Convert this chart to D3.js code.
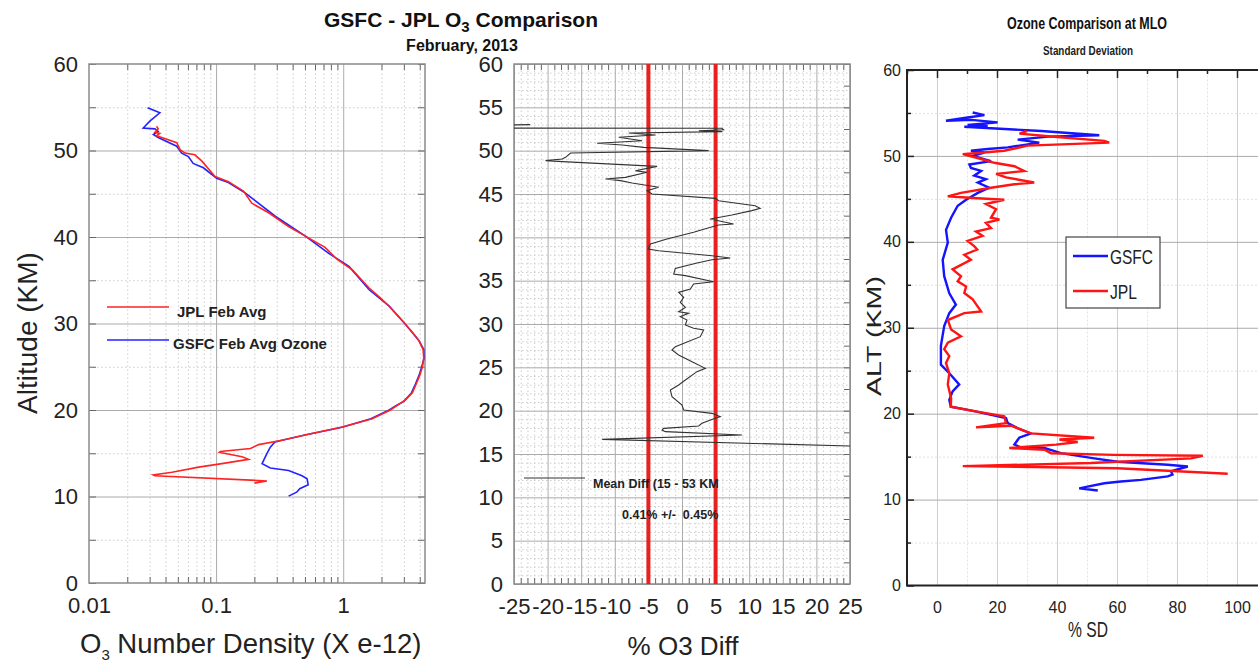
<!DOCTYPE html>
<html>
<head>
<meta charset="UTF-8">
<title>GSFC - JPL O3 Comparison</title>
<style>
  body { margin: 0; background: #fff; }
  svg { display: block; font-family: "Liberation Sans", Arial, sans-serif; }
  .gridMajor line { stroke: #ababab; stroke-width: 1; }
  .gridMinor line { stroke: #cdcdcd; stroke-width: 1; stroke-dasharray: 1.5 2.5; }
  .gridFaint line { stroke: #e2e2e2; stroke-width: 1; stroke-dasharray: 2 2; }
  .gridLight line { stroke: #cfcfcf; stroke-width: 1; }
  .mark line { stroke: #666; stroke-width: 1; }
  .markDark line { stroke: #222; stroke-width: 1.5; }
  .lbl text { font-size: 22px; fill: #222; }
  .lblNarrow text { font-size: 16px; fill: #222; font-family: "Liberation Sans Narrow", "Arial Narrow", "Liberation Sans", sans-serif; }
  .narrow { font-family: "Liberation Sans Narrow", "Arial Narrow", "Liberation Sans", sans-serif; }
</style>
</head>
<body>
<svg id="chart"></svg>
<script src="https://d3js.org/d3.v7.min.js"></script>
<script>
// ---- data: [altitude km, value] ----
const jplDensity = [
  [52.8,0.034],[52.5,0.035],[52.1,0.033],[51.97,0.036],[51.7,0.034],[50.9,0.049],[50.1,0.052],
  [49.7,0.057],[49.5,0.068],[48.8,0.077],[47.0,0.098],[46.4,0.125],[45.3,0.164],[43.9,0.191],
  [42.8,0.259],[41.2,0.372],[40.1,0.504],[38.8,0.72],[37.4,0.898],[36.2,1.18],[34.1,1.6],
  [33,1.95],[32,2.3],[31,2.65],[30,3.05],[29,3.5],[28,3.95],[27,4.25],[26,4.3],[25,4.2],
  [24,4.0],[23,3.75],[22,3.5],[21.2,3.1],[20.6,2.7],[20,2.35],[19,1.69],[18.06,1.0],
  [17.1,0.5],[16.5,0.33],[16,0.216],[15.55,0.186],[15.2,0.108],[15.1,0.106],[14.6,0.16],
  [14.3,0.18],[13.8,0.111],[13.4,0.073],[12.8,0.045],[12.5,0.032],[12.4,0.033],[11.8,0.251],[11.55,0.2]
];
const gsfcDensity = [
  [54.94,0.0289],[54.36,0.0361],[53.4,0.0301],[52.6,0.0267],[52.5,0.033],[52.2,0.035],
  [51.85,0.0321],[51.5,0.035],[50.5,0.049],[49.7,0.0536],[49.3,0.0605],[48.5,0.066],
  [48.0,0.0794],[46.8,0.101],[46.3,0.125],[45.1,0.169],[42.4,0.292],[40.1,0.504],[38.1,0.77],
  [36.6,1.11],[33.9,1.6],[32,2.3],[30,3.05],[28,3.95],[27,4.3],[26,4.32],[25,4.15],[24,3.95],
  [23,3.7],[22,3.45],[21,3.0],[20.5,2.6],[20,2.3],[19,1.65],[18,0.98],[17.1,0.5],[16.5,0.33],
  [16.3,0.29],[15.7,0.267],[14.96,0.251],[14.2,0.237],[13.8,0.23],[13.3,0.267],[13.0,0.372],
  [12.4,0.474],[12.05,0.52],[11.36,0.53],[10.9,0.455],[10.5,0.43],[10.04,0.372]
];
const pctDiff = [
  [53.0,-22.6],[52.95,-28],[52.6,-28],[52.58,5.94],[52.4,6.19],[52.3,2.5],[52.2,6.0],[52.04,-7.92],
  [51.8,-3.96],[51.54,-9.41],[51.15,-5.94],[50.85,-12.62],[50.65,-8.91],[50.38,-5.69],[50.0,3.96],
  [49.73,-16.58],[49.23,-17.33],[49.04,-17.82],[48.85,-20.3],[48.73,-17.82],[48.19,-3.71],
  [47.69,-6.93],[47.5,-5.2],[46.92,-8.42],[46.73,-11.39],[46.54,-9.16],[46.27,-7.43],[45.77,-3.47],
  [45.38,-5.2],[45.0,-4.46],[44.5,4.95],[44.23,5.45],[43.65,10.89],[43.35,11.63],[43.08,10.4],
  [42.58,7.43],[42.12,4.21],[41.54,7.67],[41.42,5.45],[40.88,2.97],[40.58,1.73],[39.81,-2.23],
  [39.23,-4.7],[38.65,-5.05],[38.46,-3.47],[37.88,4.46],[37.62,7.18],[37.42,4.46],[37.04,2.23],
  [36.42,-0.99],[35.77,-1.24],[35.58,0.5],[34.88,4.7],[34.62,1.73],[34.04,1.24],[33.65,-0.5],
  [33.08,0.25],[32.5,-0.25],[31.92,0.5],[31.42,-0.5],[31.23,0.99],[30.85,-0.25],[30.46,0.74],
  [29.88,0.5],[29.5,1.73],[29.31,3.22],[28.54,2.72],[27.38,-0.99],[27.0,-1.49],[26.42,-0.5],
  [25.65,1.49],[24.88,3.47],[24.5,2.23],[23.54,0.5],[22.96,-0.5],[22.38,-1.73],[21.62,-1.49],
  [20.65,0],[20.08,0.25],[19.69,4.46],[19.31,5.69],[19.12,4.95],[18.54,2.97],[18.23,2.48],
  [17.96,-2.72],[17.77,-2.97],[17.58,-2.48],[17.19,8.91],[16.69,-11.88],[15.92,25.2],[15.8,28]
];
const gsfcSD = [
  [55.05,11.9],[54.75,15.8],[54.5,10.8],[54.1,3.0],[54.2,11.5],[53.9,20.2],[53.6,10.2],[53.5,16.9],
  [53.4,9.1],[52.9,34.7],[52.4,54.1],[52.25,37.1],[51.9,26.9],[51.55,34.1],[51.0,23.6],[50.8,16.9],
  [50.6,11.3],[50.4,15.8],[50.0,11.9],[49.4,18.0],[49.0,10.8],[48.6,11.3],[48.25,14.7],[47.7,12.4],
  [47.3,16.3],[46.9,13.6],[46.3,17.4],[45.7,13.6],[44.9,9.7],[44.2,6.9],[42.8,4.7],[41.4,3.0],
  [39.9,3.6],[37.9,1.9],[36.0,2.4],[34.0,4.1],[32.7,6.3],[31.7,4.1],[30.2,2.4],[27.9,1.3],
  [25.7,1.3],[24.7,4.1],[23.4,7.4],[22.6,5.2],[21.6,4.1],[20.8,4.6],[20.3,12.4],[19.5,23.0],
  [18.9,23.6],[18.3,26.9],[17.7,31.3],[17.2,27.4],[16.4,25.8],[16.0,28.5],[16.0,35.8],[15.4,41.3],
  [14.8,52.4],[14.4,60.2],[14.05,76.9],[13.85,83.6],[13.3,78.0],[12.9,78.5],[12.7,76.9],[12.3,68.0],
  [12.1,61.3],[11.9,55.8],[11.5,50.2],[11.3,47.4],[11.05,53.6]
];
const jplSD = [
  [52.9,30],[52.6,27.5],[52.2,40],[51.75,55.8],[51.55,57.4],[51.2,30.2],[50.6,22.4],[50.2,8.6],
  [49.7,14.1],[49.2,19.1],[48.8,25.8],[48.25,29.1],[47.9,19.7],[47.5,23.0],[46.9,32.4],[46.7,25.8],
  [46.3,18.0],[45.7,8.0],[45.3,3.6],[45.1,12.0],[44.9,22.4],[44.4,16.3],[43.8,19.7],[42.8,18.0],
  [42.6,20.8],[42.2,16.3],[41.6,18.0],[41.2,13.0],[40.7,15.2],[40.1,10.2],[39.5,12.4],[39.1,13.4],
  [38.5,9.1],[37.9,11.3],[36.8,5.2],[36.0,8.0],[35.4,6.9],[34.8,9.7],[34.05,9.1],[33.3,11.9],
  [31.9,14.7],[31.7,9.1],[30.9,3.6],[29.8,4.7],[29.0,8.0],[28.25,3.6],[27.5,2.4],[26.7,4.1],
  [25.9,3.0],[24.7,4.1],[23.4,3.6],[21.8,4.7],[20.8,4.6],[20.3,12.4],[19.7,22.4],[18.9,23.0],
  [18.4,13.0],[18.6,24.7],[17.7,31.3],[17.2,52.4],[17.0,40.8],[16.7,46.9],[16.4,39.7],[16.0,24.1],
  [15.8,35.8],[15.4,38.0],[15.2,59.0],[15.1,88.6],[14.8,84.7],[14.25,51.3],[13.9,8.6],[13.65,60.2],[13.0,96.9]
];
const limitLines = [-5, 5];

// tick values
const altMajor = [0, 10, 20, 30, 40, 50, 60];
const altMinor = [5, 15, 25, 35, 45, 55];
const altEvery5 = [0, 5, 10, 15, 20, 25, 30, 35, 40, 45, 50, 55, 60];
const densityLabels = [0.01, 0.1, 1];
const densityMinor = [0.02,0.03,0.04,0.05,0.06,0.07,0.08,0.09,0.2,0.3,0.4,0.5,0.6,0.7,0.8,0.9,2,3,4];
const diffLabels = [-25,-20,-15,-10,-5,0,5,10,15,20,25];
const sdLabels = [0, 20, 40, 60, 80, 100];
const sdMinor = [-10, 10, 30, 50, 70, 90, 110];

const W = 1258, H = 662;
const svg = d3.select("#chart").attr("width", W).attr("height", H);
svg.append("rect").attr("width", W).attr("height", H).attr("fill", "#fff");
const defs = svg.append("defs");

function clip(id, x0, y0, x1, y1) {
  defs.append("clipPath").attr("id", id).append("rect")
    .attr("x", x0).attr("y", y0).attr("width", x1 - x0).attr("height", y1 - y0);
  return "url(#" + id + ")";
}
function put(g, axis, tx, ty, cls) {
  const a = g.append("g").attr("class", cls).attr("transform", `translate(${tx},${ty})`).call(axis);
  a.select(".domain").remove();
  return a;
}

// ================= left panel: number density =================
const xL = d3.scaleLog().domain([0.01, 4.4]).range([89, 425]);
const yL = d3.scaleLinear().domain([0, 60]).range([583, 64]);
const gL = svg.append("g");
const hL = yL(0) - yL(60), wL = xL.range()[1] - xL.range()[0];

put(gL, d3.axisBottom(xL).tickValues(densityMinor).tickSize(-hL).tickFormat(""), 0, yL(0), "gridMinor");
put(gL, d3.axisLeft(yL).tickValues(altMinor).tickSize(-wL).tickFormat(""), xL(0.01), 0, "gridMinor");
put(gL, d3.axisBottom(xL).tickValues([0.1, 1]).tickSize(-hL).tickFormat(""), 0, yL(0), "gridMajor");
put(gL, d3.axisLeft(yL).tickValues([10, 20, 30, 40, 50]).tickSize(-wL).tickFormat(""), xL(0.01), 0, "gridMajor");

// inward tick marks
put(gL, d3.axisTop(xL).tickValues(densityMinor).tickSize(-6).tickFormat(""), 0, yL(60), "mark");
put(gL, d3.axisBottom(xL).tickValues(densityMinor).tickSize(-6).tickFormat(""), 0, yL(0), "mark");
put(gL, d3.axisLeft(yL).tickValues(altEvery5).tickSize(-7).tickFormat(""), xL(0.01), 0, "mark");
put(gL, d3.axisRight(yL).tickValues(altEvery5).tickSize(-7).tickFormat(""), xL(4.4), 0, "mark");

put(gL, d3.axisLeft(yL).tickValues(altMajor).tickSize(0).tickPadding(11), xL(0.01), 0, "lbl");
put(gL, d3.axisBottom(xL).tickValues(densityLabels).tickSize(0).tickPadding(14).tickFormat(d => String(d)), 0, yL(0), "lbl");

gL.append("rect").attr("x", xL(0.01)).attr("y", yL(60)).attr("width", wL).attr("height", hL)
  .attr("fill", "none").attr("stroke", "#8a8a8a").attr("stroke-width", 1.5);

const lineL = d3.line().x(d => xL(d[1])).y(d => yL(d[0]));
const curvesL = gL.append("g").attr("clip-path", clip("clipL", 89, 64, 425, 583));
curvesL.append("path").attr("d", lineL(gsfcDensity)).attr("fill", "none").attr("stroke", "#2323ff").attr("stroke-width", 1.6);
curvesL.append("path").attr("d", lineL(jplDensity)).attr("fill", "none").attr("stroke", "#ff2323").attr("stroke-width", 1.6);

// legend
gL.append("line").attr("x1", 107).attr("x2", 169).attr("y1", 307).attr("y2", 307).attr("stroke", "#ff2323").attr("stroke-width", 1.6);
gL.append("text").attr("x", 177).attr("y", 317).attr("font-size", 15).attr("font-weight", "bold").attr("fill", "#222").text("JPL Feb Avg");
gL.append("line").attr("x1", 107).attr("x2", 169).attr("y1", 340).attr("y2", 340).attr("stroke", "#2323ff").attr("stroke-width", 1.6);
gL.append("text").attr("x", 173).attr("y", 349).attr("font-size", 15).attr("font-weight", "bold").attr("fill", "#222").text("GSFC Feb Avg Ozone");

gL.append("text").attr("transform", "translate(37,333) rotate(-90)").attr("text-anchor", "middle")
  .attr("font-size", 28).attr("fill", "#222").text("Altitude (KM)");
const xlab = gL.append("text").attr("x", 80).attr("y", 653).attr("font-size", 27.5).attr("fill", "#222");
xlab.append("tspan").text("O");
xlab.append("tspan").attr("dy", 7).attr("font-size", 15).text("3");
xlab.append("tspan").attr("dy", -7).text(" Number Density (X e-12)");

// ================= middle panel: % difference =================
const xM = d3.scaleLinear().domain([-25, 25]).range([514, 850]);
const yM = d3.scaleLinear().domain([0, 60]).range([584, 64]);
const gM = svg.append("g");
const hM = yM(0) - yM(60), wM = xM(25) - xM(-25);
const diffMinor = d3.range(-24, 25).filter(v => v % 5 !== 0);
const altMinor1 = d3.range(1, 60).filter(v => v % 5 !== 0);

put(gM, d3.axisBottom(xM).tickValues(diffMinor).tickSize(-hM).tickFormat(""), 0, yM(0), "gridMinor");
put(gM, d3.axisLeft(yM).tickValues(altMinor1).tickSize(-wM).tickFormat(""), xM(-25), 0, "gridMinor");
put(gM, d3.axisBottom(xM).tickValues(diffLabels).tickSize(-hM).tickFormat(""), 0, yM(0), "gridMajor");
put(gM, d3.axisLeft(yM).tickValues(altEvery5).tickSize(-wM).tickFormat(""), xM(-25), 0, "gridMajor");

put(gM, d3.axisTop(xM).tickValues(diffMinor).tickSize(-6).tickFormat(""), 0, yM(60), "mark");
put(gM, d3.axisBottom(xM).tickValues(diffMinor).tickSize(-6).tickFormat(""), 0, yM(0), "mark");
put(gM, d3.axisRight(yM).tickValues(d3.range(0, 61, 2.5)).tickSize(-6).tickFormat(""), xM(25), 0, "mark");

put(gM, d3.axisLeft(yM).tickValues(altEvery5).tickSize(0).tickPadding(11), xM(-25), 0, "lbl");
put(gM, d3.axisBottom(xM).tickValues(diffLabels).tickSize(0).tickPadding(14).tickFormat(d => String(d)), 0, yM(0), "lbl");

gM.append("rect").attr("x", xM(-25)).attr("y", yM(60)).attr("width", wM).attr("height", hM)
  .attr("fill", "none").attr("stroke", "#8a8a8a").attr("stroke-width", 1.5);

gM.selectAll(".limit").data(limitLines).enter().append("line").attr("class", "limit")
  .attr("x1", d => xM(d)).attr("x2", d => xM(d)).attr("y1", yM(60)).attr("y2", yM(0))
  .attr("stroke", "#e8201f").attr("stroke-width", 4);

const lineM = d3.line().x(d => xM(d[1])).y(d => yM(d[0]));
gM.append("g").attr("clip-path", clip("clipM", 514, 64, 850, 584))
  .append("path").attr("d", lineM(pctDiff)).attr("fill", "none").attr("stroke", "#333").attr("stroke-width", 1.1);

gM.append("line").attr("x1", 524).attr("x2", 585).attr("y1", 478).attr("y2", 478).attr("stroke", "#333").attr("stroke-width", 1.1);
gM.append("text").attr("x", 593).attr("y", 488).attr("font-size", 12.5).attr("font-weight", "bold").attr("fill", "#222").text("Mean Diff (15 - 53 KM");
gM.append("text").attr("x", 622).attr("y", 519).attr("font-size", 12.5).attr("font-weight", "bold").attr("fill", "#222")
  .style("white-space", "pre").text("0.41% +/-  0.45%");
gM.append("text").attr("x", 683).attr("y", 655).attr("text-anchor", "middle").attr("font-size", 26).attr("fill", "#222").text("% O3 Diff");

// ================= main title =================
const title = svg.append("text").attr("x", 461).attr("y", 27).attr("text-anchor", "middle")
  .attr("font-size", 21).attr("font-weight", "bold").attr("fill", "#111");
title.append("tspan").text("GSFC - JPL O");
title.append("tspan").attr("dy", 5).attr("font-size", 15).text("3");
title.append("tspan").attr("dy", -5).text(" Comparison");
svg.append("text").attr("x", 462).attr("y", 51).attr("text-anchor", "middle")
  .attr("font-size", 16).attr("font-weight", "bold").attr("fill", "#111").text("February, 2013");

// ================= right panel: standard deviation =================
const xR = d3.scaleLinear().domain([-10, 110]).range([907, 1267]);
const yR = d3.scaleLinear().domain([0, 60]).range([585.5, 70]);
const gR = svg.append("g");
const hR = yR(0) - yR(60), wR = xR(110) - xR(-10);

put(gR, d3.axisBottom(xR).tickValues(sdMinor).tickSize(-hR).tickFormat(""), 0, yR(0), "gridFaint");
put(gR, d3.axisLeft(yR).tickValues(altMinor).tickSize(-wR).tickFormat(""), xR(-10), 0, "gridFaint");
put(gR, d3.axisBottom(xR).tickValues(sdLabels).tickSize(-hR).tickFormat(""), 0, yR(0), "gridLight");
put(gR, d3.axisLeft(yR).tickValues([10, 20, 30, 40, 50]).tickSize(-wR).tickFormat(""), xR(-10), 0, "gridMajor");

put(gR, d3.axisTop(xR).tickValues(sdLabels).tickSize(-8).tickFormat(""), 0, yR(60), "markDark");
put(gR, d3.axisTop(xR).tickValues(sdMinor).tickSize(-4).tickFormat(""), 0, yR(60), "markDark");
put(gR, d3.axisLeft(yR).tickValues(altMajor).tickSize(-7).tickFormat(""), xR(-10), 0, "markDark");
put(gR, d3.axisLeft(yR).tickValues(altMinor).tickSize(-4).tickFormat(""), xR(-10), 0, "markDark");

put(gR, d3.axisLeft(yR).tickValues(altMajor).tickSize(0).tickPadding(6), xR(-10), 0, "lblNarrow");
put(gR, d3.axisBottom(xR).tickValues(sdLabels).tickSize(0).tickPadding(16), 0, yR(0), "lblNarrow");

gR.append("path").attr("d", `M${xR(110)},${yR(60)}H${xR(-10)}V${yR(0)}H${xR(110)}`)
  .attr("fill", "none").attr("stroke", "#222").attr("stroke-width", 2);

const lineR = d3.line().x(d => xR(d[1])).y(d => yR(d[0]));
const curvesR = gR.append("g").attr("clip-path", clip("clipR", 907, 70, 1267, 585.5));
curvesR.append("path").attr("d", lineR(gsfcSD)).attr("fill", "none").attr("stroke", "#1414ff").attr("stroke-width", 2.4);
curvesR.append("path").attr("d", lineR(jplSD)).attr("fill", "none").attr("stroke", "#ff1414").attr("stroke-width", 2.4);

// legend box
gR.append("rect").attr("x", 1066).attr("y", 237).attr("width", 94).attr("height", 71)
  .attr("fill", "#fff").attr("stroke", "#444").attr("stroke-width", 1.2);
gR.append("line").attr("x1", 1073).attr("x2", 1108).attr("y1", 256).attr("y2", 256).attr("stroke", "#1414ff").attr("stroke-width", 2.4);
gR.append("text").attr("class", "narrow").attr("x", 1110).attr("y", 264).attr("font-size", 21).attr("fill", "#222")
  .attr("textLength", 43).attr("lengthAdjust", "spacingAndGlyphs").text("GSFC");
gR.append("line").attr("x1", 1073).attr("x2", 1108).attr("y1", 291).attr("y2", 291).attr("stroke", "#ff1414").attr("stroke-width", 2.4);
gR.append("text").attr("class", "narrow").attr("x", 1110).attr("y", 299).attr("font-size", 21).attr("fill", "#222")
  .attr("textLength", 27).attr("lengthAdjust", "spacingAndGlyphs").text("JPL");

gR.append("text").attr("class", "narrow").attr("x", 1087).attr("y", 29).attr("text-anchor", "middle")
  .attr("font-size", 16).attr("font-weight", "bold").attr("fill", "#111")
  .attr("textLength", 160).attr("lengthAdjust", "spacingAndGlyphs").text("Ozone Comparison at MLO");
gR.append("text").attr("class", "narrow").attr("x", 1088).attr("y", 55).attr("text-anchor", "middle")
  .attr("font-size", 12.5).attr("font-weight", "bold").attr("fill", "#222")
  .attr("textLength", 90).attr("lengthAdjust", "spacingAndGlyphs").text("Standard Deviation");
gR.append("text").attr("class", "narrow").attr("transform", "translate(881,336) rotate(-90)").attr("text-anchor", "middle")
  .attr("font-size", 21).attr("fill", "#222")
  .attr("textLength", 120).attr("lengthAdjust", "spacingAndGlyphs").text("ALT (KM)");
gR.append("text").attr("class", "narrow").attr("x", 1088).attr("y", 637).attr("text-anchor", "middle")
  .attr("font-size", 22).attr("fill", "#222")
  .attr("textLength", 40).attr("lengthAdjust", "spacingAndGlyphs").text("% SD");
</script>
</body>
</html>
